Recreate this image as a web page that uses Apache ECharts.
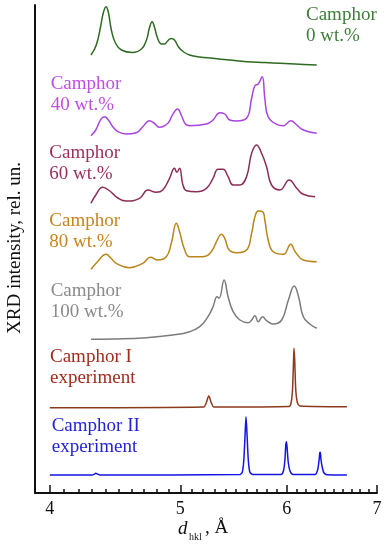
<!DOCTYPE html>
<html><head><meta charset="utf-8">
<script src="https://cdn.jsdelivr.net/npm/echarts@6/dist/echarts.min.js"></script>
<style>html,body{margin:0;padding:0;background:#fff}#c{width:388px;height:550px}</style>
</head><body><div id="c"></div>
<script>
// x axis: d_hkl (Å), drawn on a logarithmic scale
const xTickLabels = [4, 5, 6, 7];
const xMinorTicks = [3.9,4.0,4.1,4.2,4.3,4.4,4.5,4.6,4.7,4.8,4.9,5.0,5.1,5.2,5.3,5.4,5.5,5.6,5.7,5.8,5.9,6.0,6.1,6.2,6.3,6.4,6.5,6.6,6.7,6.8,6.9,7.0];
const xMin = 3.9, xMax = 7;

// series (d in Å, intensity in rel. un. including vertical offset)
const d0  = [4.292,4.331,4.361,4.383,4.404,4.421,4.444,4.475,4.521,4.607,4.679,4.719,4.743,4.765,4.784,4.809,4.842,4.867,4.893,4.922,4.951,4.985,5.029,5.081,5.169,5.286,5.442,5.603,5.778,5.930,6.135,6.314];
const v0  = [438,448,465,480,486.3,481,463,450,443,440.5,444,453,465,471.3,466,455,449,449,452,454.5,453,446,441,438,436,434.7,433,431.3,430.5,429.7,428.7,428];

const d40 = [4.292,4.327,4.365,4.393,4.416,4.455,4.494,4.558,4.637,4.690,4.743,4.780,4.825,4.895,4.936,4.977,5.008,5.046,5.081,5.229,5.288,5.349,5.395,5.442,5.505,5.600,5.649,5.680,5.713,5.752,5.778,5.811,5.896,5.964,6.040,6.102,6.171,6.314];
const v40 = [357.3,363,373.7,376.3,374,366.3,361.3,359,360.3,366.3,372.3,370,365.7,369.7,378.7,384,378,368.7,367.3,369,373,380.3,379,373,372,374.7,394.7,407.3,409,416.3,394.7,376.3,368.7,367.3,372.3,368,363,359.7];

const d60 = [4.292,4.327,4.378,4.432,4.494,4.558,4.664,4.731,4.798,4.853,4.909,4.951,4.971,4.994,5.023,5.053,5.141,5.229,5.288,5.334,5.380,5.426,5.473,5.537,5.600,5.649,5.697,5.746,5.795,5.845,5.930,6.024,6.102,6.171,6.297];
const v60 = [289.7,298,305.7,302,295,292,294.7,303,300.7,303,314.7,324.7,320.7,324.7,308,302.3,301.3,304.7,314.7,323.7,323.7,316.3,308,308,316.3,339.7,348,339.7,326.3,308,303,313,304.7,298.7,296.3];

const d80 = [4.292,4.340,4.404,4.442,4.481,4.584,4.690,4.751,4.811,4.882,4.924,4.967,4.994,5.038,5.081,5.198,5.272,5.334,5.364,5.395,5.436,5.505,5.600,5.649,5.681,5.713,5.756,5.778,5.811,5.861,5.964,6.040,6.086,6.171,6.314];
const v80 = [223.7,231.3,238.7,234.7,229.7,225.3,229.7,235.7,233,236.3,249.7,269.7,261.3,243,236.3,236.3,241.3,254.7,258.7,254.7,243,240.3,243,259.7,276.3,282,281.3,273,253,241.3,238.7,248.7,241.3,233,231.3];

const d100 = [4.292,4.455,4.717,4.936,5.081,5.169,5.243,5.288,5.325,5.343,5.389,5.426,5.473,5.537,5.616,5.649,5.681,5.713,5.756,5.795,5.861,5.947,6.016,6.076,6.121,6.171,6.240,6.314];
const v100 = [153.7,154,155.3,158,161.3,166.3,176.3,186.3,196.3,194.7,213,196.3,181.3,173,170.3,173,177.3,171.3,176.3,172.3,169,173,193,207,196.3,176.3,169,164.7];

const dI = [4.0,5.205,5.227,5.241,5.25,5.259,5.273,5.295,6.022,6.043,6.058,6.069,6.074,6.081,6.092,6.110,6.136,6.649];
const vI = [85.3,86,90,95,97,95,90,86,86.5,90,103,133,144.7,133,103,90,87,86.3];

const dII = [4.0,4.3,4.316,4.327,4.342,4.357,5.536,5.56,5.574,5.586,5.595,5.605,5.617,5.632,5.661,5.94,5.965,5.98,5.989,5.996,6.004,6.015,6.032,6.064,6.297,6.324,6.34,6.347,6.353,6.361,6.376,6.394,6.427,6.649];
const vII = [18,18,18.8,19.7,18.8,18,18.5,21,33,58,76.3,58,33,21,18.5,18.5,22,33,48,51.3,43,30,22,18.5,18.5,23,33,40,40.7,33,25,20,18.2,18];

const seriesNames = ['Camphor 0 wt.%','Camphor 40 wt.%','Camphor 60 wt.%','Camphor 80 wt.%','Camphor 100 wt.%','Camphor I experiment','Camphor II experiment'];
const lineColors  = ['#2f6a22','#a845de','#8a2d58','#b8861c','#7c7c7c','#8c3a1c','#1414e6'];
const labelColors = ['#3f7d3a','#c04ee2','#9b2f5f','#c8841e','#8a8a8a','#a02e1e','#2323d2'];
const labelLine1  = ['Camphor','Camphor','Camphor','Camphor','Camphor','Camphor I','Camphor II'];
const labelLine2  = ['0 wt.%','40 wt.%','60 wt.%','80 wt.%','100 wt.%','experiment','experiment'];
const labelPos    = [[306,5],[50.7,74],[49.3,142.5],[49.3,210.5],[50.7,280.5],[50,346.5],[51.7,416]];

const allD = [d0,d40,d60,d80,d100,dI,dII];
const allV = [v0,v40,v60,v80,v100,vI,vII];
const smoothness = [0.45,0.45,0.45,0.45,0.45,0.25,0.25];

const L = Math.log10;
const serif = '"Liberation Serif","Times New Roman",serif';

const series = allD.map((d,i)=>({
  name: seriesNames[i], type:'line', xAxisIndex:0, yAxisIndex:0,
  data: d.map((x,j)=>[L(x), allV[i][j]]),
  showSymbol:false, smooth: smoothness[i],
  lineStyle:{color: lineColors[i], width:1.5},
  itemStyle:{color: lineColors[i]}, silent:true, animation:false
}));

const graphic = [];
labelPos.forEach((p,i)=>{
  graphic.push({type:'text', x:p[0], y:p[1], silent:true,
    style:{text: labelLine1[i] + '\n' + labelLine2[i], font: '19px ' + serif,
      lineHeight:21, fill: labelColors[i], verticalAlign:'top', align:'left'}});
});
graphic.push({type:'text', x:15, y:248, rotation:Math.PI/2, silent:true,
  style:{text:'XRD intensity, rel. un.', font:'19px ' + serif, fill:'#111', align:'center', verticalAlign:'middle'}});
graphic.push({type:'text', x:178, y:538, silent:true,
  style:{text:'d', font:'italic 19px ' + serif, fill:'#111', align:'left', verticalAlign:'bottom'}});
graphic.push({type:'text', x:189, y:542, silent:true,
  style:{text:'hkl', font:'10px ' + serif, fill:'#111', align:'left', verticalAlign:'bottom'}});
graphic.push({type:'text', x:205, y:538, silent:true,
  style:{text:', Å', font:'19px ' + serif, fill:'#111', align:'left', verticalAlign:'bottom'}});

const chart = echarts.init(document.getElementById('c'), null, {renderer:'canvas'});
chart.setOption({
  animation:false,
  backgroundColor:'#fff',
  grid:{left:35, right:11, top:5, bottom:57, containLabel:false},
  xAxis:[{
    type:'value', min:L(xMin), max:L(xMax), position:'bottom',
    splitLine:{show:false},
    axisLine:{show:true, onZero:false, lineStyle:{color:'#111', width:2}},
    axisTick:{show:true, inside:true, length:8, lineStyle:{color:'#111', width:1.5}, customValues: xTickLabels.map(L)},
    axisLabel:{show:true, customValues: xTickLabels.map(L), margin:7,
      formatter: v => String(Math.round(Math.pow(10, v))),
      fontSize:18, fontFamily:serif, color:'#111'}
  },{
    type:'value', min:L(xMin), max:L(xMax), position:'bottom',
    splitLine:{show:false},
    axisLine:{show:false, onZero:false},
    axisTick:{show:true, inside:true, length:4, lineStyle:{color:'#111', width:1.5}, customValues: xMinorTicks.map(L)},
    axisLabel:{show:false}
  }],
  yAxis:{
    type:'value', min:0, max:488,
    splitLine:{show:false},
    axisLine:{show:true, lineStyle:{color:'#111', width:2}},
    axisTick:{show:false}, axisLabel:{show:false}
  },
  series: series,
  graphic: graphic
});
</script></body></html>
